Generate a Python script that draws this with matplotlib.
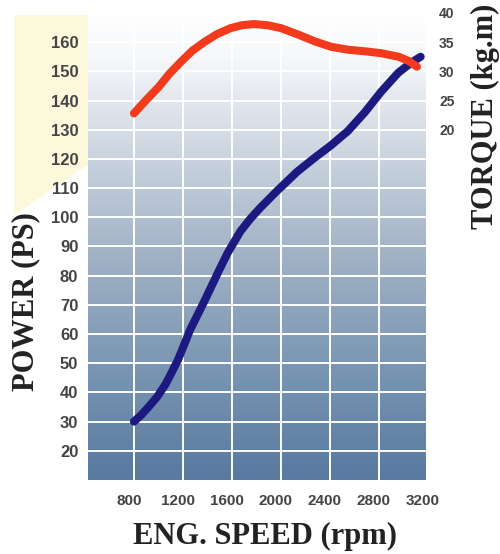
import matplotlib.pyplot as plt
import numpy as np
from matplotlib.colors import LinearSegmentedColormap
from matplotlib.patches import Polygon
from matplotlib.transforms import ScaledTranslation

# Power curve (PS) vs engine speed
power_rpm = [800, 860, 921, 990, 1058, 1110, 1162, 1259, 1380, 1484, 1565,
             1669, 1750, 1830, 1967, 2132, 2272, 2404, 2545, 2685, 2817,
             2957, 3064, 3140]
power_ps = [30, 32.3, 35.1, 38.5, 42.8, 47, 51.4, 61.5, 71.7, 80.9, 87.8,
            95.2, 99.5, 103.2, 109, 115.6, 120.3, 124.5, 129.5, 136, 143,
            149.5, 153, 155]

# Torque curve (kg.m) vs engine speed
torque_rpm = [800, 900, 1001, 1090, 1186, 1280, 1380, 1480, 1589, 1680, 1780,
              1890, 2000, 2140, 2280, 2410, 2550, 2700, 2820, 2960, 3040, 3110]
torque_kgm = [22.8, 25.1, 27.3, 29.6, 31.7, 33.6, 35.1, 36.4, 37.4, 37.9,
              38.1, 37.9, 37.4, 36.3, 35.1, 34.2, 33.7, 33.4, 33.1, 32.5,
              31.8, 30.8]

rpm_ticks = [800, 1200, 1600, 2000, 2400, 2800, 3200]
ps_ticks = list(range(20, 170, 10))
torque_ticks = [20, 25, 30, 35, 40]

fig = plt.figure(figsize=(5.0, 5.54), dpi=100)
ax = fig.add_axes([0.176, 0.1336, 0.68, 0.843])

# beige panel behind the power tick labels
W, H = 500, 554
pts = [(14, 15), (88, 15), (88, 165), (14, 215)]
beige = Polygon([(x / W, 1 - y / H) for x, y in pts], closed=True,
                transform=fig.transFigure, facecolor="#fcf8dc",
                edgecolor="none", zorder=-1)
fig.patches.append(beige)

xlim = (425, 3180)
ylim = (10, 170)

# vertical gradient background
cmap = LinearSegmentedColormap.from_list("bg", [
    (0.0, "#ffffff"), (0.1, "#f5f7f9"), (0.22, "#dce2ea"),
    (0.5, "#a4b4c7"), (0.8, "#7491b0"), (1.0, "#587a9f")])
grad = np.linspace(0, 1, 256).reshape(-1, 1)
ax.imshow(grad, extent=[xlim[0], xlim[1], ylim[0], ylim[1]], aspect="auto",
          cmap=cmap, origin="upper", zorder=0)

ax.set_xlim(xlim)
ax.set_ylim(ylim)
ax.set_xticks(rpm_ticks)
ax.set_yticks(ps_ticks)
ax.grid(True, color="white", linewidth=1.4)
ax.set_axisbelow(True)
for s in ax.spines.values():
    s.set_visible(False)
ax.tick_params(length=0)
ax.tick_params(axis="y", pad=7, labelsize=12, labelcolor="#444444")
ax.tick_params(axis="x", pad=10, labelsize=11, labelcolor="#444444")
for lab in ax.get_xticklabels() + ax.get_yticklabels():
    lab.set_fontfamily("Liberation Sans")
    lab.set_fontweight("bold")
for lab in ax.get_xticklabels():
    lab.set_transform(lab.get_transform() + ScaledTranslation(-5 / 100, 0, fig.dpi_scale_trans))

ax.plot(power_rpm, power_ps, color="#1c1a80", linewidth=5.8,
        solid_capstyle="round", solid_joinstyle="round", zorder=3)

# torque axis: 20 kg.m at 130 PS, 5 kg.m per 10 PS
ax2 = ax.twinx()
ax2.set_ylim(20 + (ylim[0] - 130) / 2, 20 + (ylim[1] - 130) / 2)
ax2.set_yticks(torque_ticks)
for s in ax2.spines.values():
    s.set_visible(False)
ax2.tick_params(length=0, pad=8, labelsize=10, labelcolor="#444444")
for lab in ax2.get_yticklabels():
    lab.set_fontfamily("Liberation Sans")
    lab.set_fontweight("bold")
ax2.plot(torque_rpm, torque_kgm, color="#f23a1c", linewidth=5.8,
         solid_capstyle="round", solid_joinstyle="round", zorder=4)

lab_font = dict(family="Liberation Serif", weight="bold", size=22, color="#222222")
fig.text(26 / W, 1 - 302 / H, "POWER (PS)", rotation=90, ha="center",
         va="center", **lab_font)
fig.text(265 / W, 1 - 536 / H, "ENG. SPEED (rpm)", ha="center",
         va="center", **lab_font)
fig.text(485 / W, 1 - 116 / H, "TORQUE (kg.m)", rotation=90, ha="center",
         va="center", **lab_font)

fig.savefig("out.png", dpi=100)
